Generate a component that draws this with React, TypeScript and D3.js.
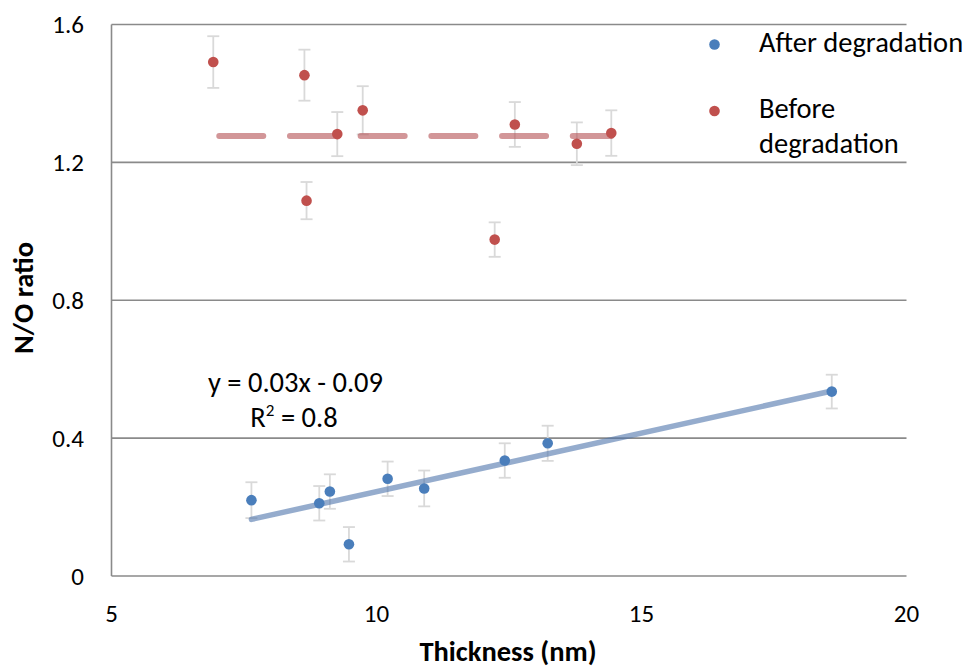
import React from "react";
import * as d3 from "d3";

const afterX = [7.64, 8.92, 9.12, 9.48, 10.21, 10.9, 12.42, 13.23, 18.59];
const afterY = [0.22, 0.211, 0.245, 0.092, 0.282, 0.254, 0.335, 0.385, 0.535];
const afterErr = [0.052, 0.05, 0.05, 0.05, 0.05, 0.052, 0.05, 0.051, 0.049];

const beforeX = [6.92, 8.64, 8.68, 9.26, 9.74, 12.23, 12.61, 13.78, 14.43];
const beforeY = [1.491, 1.453, 1.089, 1.282, 1.351, 0.976, 1.31, 1.254, 1.285];
const beforeErr = [0.075, 0.074, 0.054, 0.064, 0.07, 0.05, 0.065, 0.062, 0.066];

const xTicks = [5, 10, 15, 20];
const yTicks = [0, 0.4, 0.8, 1.2, 1.6];
const yTickLabels = ["0", "0.4", "0.8", "1.2", "1.6"];

const seriesNames = ["After degradation", "Before degradation"];
const equationText = "y = 0.03x - 0.09";

const W = 969;
const H = 669;
const FONT = "Carlito, Calibri, Lato, sans-serif";

export default function App() {
  const x = d3.scaleLinear().domain([5, 20]).range([111.5, 906.5]);
  const y = d3.scaleLinear().domain([0, 1.6]).range([576, 24.5]);

  const after = afterX.map((v, i) => ({ x: v, y: afterY[i], e: afterErr[i] }));
  const before = beforeX.map((v, i) => ({ x: v, y: beforeY[i], e: beforeErr[i] }));

  const mx = d3.mean(afterX) as number;
  const my = d3.mean(afterY) as number;
  const sxy = d3.sum(afterX.map((v, i) => (v - mx) * (afterY[i] - my)));
  const sxx = d3.sum(afterX.map((v) => (v - mx) ** 2));
  const slope = sxy / sxx;
  const icpt = my - slope * mx;
  const [ax0, ax1] = d3.extent(afterX) as [number, number];
  const line = d3
    .line<number>()
    .x((d) => x(d))
    .y((d) => y(slope * d + icpt));

  const meanBefore = d3.mean(beforeY) as number;
  const [bx0, bx1] = d3.extent(beforeX) as [number, number];
  const flat = d3
    .line<number>()
    .x((d) => x(d))
    .y(() => y(meanBefore));

  const blue = "#4a7ebb";
  const red = "#c0504d";
  const errColor = "#d9d9d9";
  const gridColor = "#8a8a8a";

  const errBar = (d: { x: number; y: number; e: number }, i: number, key: string) => {
    const cx = x(d.x);
    const t = y(d.y + d.e);
    const b = y(d.y - d.e);
    return (
      <g key={key + i} stroke={errColor} strokeWidth={1.8}>
        <line x1={cx} x2={cx} y1={t} y2={b} />
        <line x1={cx - 6} x2={cx + 6} y1={t} y2={t} />
        <line x1={cx - 6} x2={cx + 6} y1={b} y2={b} />
      </g>
    );
  };

  const beforeWords = seriesNames[1].split(" ");

  return (
    <svg
      width={W}
      height={H}
      style={{ position: "absolute", left: 0, top: 0, background: "#fff" }}
      fontFamily={FONT}
    >
      <rect x={0} y={0} width={W} height={H} fill="#fff" />
      {yTicks.map((t) => (
        <line
          key={"g" + t}
          x1={x(5)}
          x2={x(20)}
          y1={y(t)}
          y2={y(t)}
          stroke={gridColor}
          strokeWidth={1.6}
        />
      ))}
      <line x1={x(5)} x2={x(5)} y1={y(0)} y2={y(1.6)} stroke={gridColor} strokeWidth={1.6} />

      {yTicks.map((t, i) => (
        <text
          key={"yt" + t}
          x={84}
          y={y(t)}
          textAnchor="end"
          dominantBaseline="central"
          fontSize={25}
          fill="#000"
        >
          {yTickLabels[i]}
        </text>
      ))}
      {xTicks.map((t) => (
        <text
          key={"xt" + t}
          x={x(t)}
          y={613}
          textAnchor="middle"
          dominantBaseline="central"
          fontSize={25}
          fill="#000"
        >
          {t}
        </text>
      ))}

      <text
        x={508}
        y={661}
        textAnchor="middle"
        fontSize={28.5}
        fontWeight="bold"
        fill="#000"
      >
        Thickness (nm)
      </text>
      <text
        transform={`translate(23,298) rotate(-90)`}
        textAnchor="middle"
        dominantBaseline="central"
        fontSize={28.5}
        fontWeight="bold"
        fill="#000"
      >
        N/O ratio
      </text>

      {after.map((d, i) => errBar(d, i, "ea"))}
      {before.map((d, i) => errBar(d, i, "eb"))}

      <path
        d={line([ax0, ax1]) || ""}
        stroke="#4e75ac"
        strokeOpacity={0.6}
        strokeWidth={5.5}
        strokeLinecap="round"
        fill="none"
      />
      <path
        d={flat([bx0, bx1]) || ""}
        stroke="#b45053"
        strokeOpacity={0.6}
        strokeWidth={6}
        strokeLinecap="round"
        strokeDasharray="44 26.7"
        strokeDashoffset={-6}
        fill="none"
      />

      {after.map((d, i) => (
        <circle key={"pa" + i} cx={x(d.x)} cy={y(d.y)} r={5.3} fill={blue} />
      ))}
      {before.map((d, i) => (
        <circle key={"pb" + i} cx={x(d.x)} cy={y(d.y)} r={5.3} fill={red} />
      ))}

      <text x={295.5} y={391.5} textAnchor="middle" fontSize={28.5} fill="#000">
        {equationText}
      </text>
      <text x={294} y={427} textAnchor="middle" fontSize={28.5} fill="#000">
        R<tspan fontSize={17} dy={-11}>2</tspan>
        <tspan dy={11}>{" = " + d3.format(".1f")(0.8)}</tspan>
      </text>

      <circle cx={714.5} cy={44.5} r={5.3} fill={blue} />
      <text x={759} y={51.7} fontSize={28.5} fill="#000">
        {seriesNames[0]}
      </text>
      <circle cx={714.5} cy={111} r={5.3} fill={red} />
      <text x={759} y={118.3} fontSize={28.5} fill="#000">
        {beforeWords[0]}
      </text>
      <text x={759} y={152.7} fontSize={28.5} fill="#000">
        {beforeWords[1]}
      </text>
    </svg>
  );
}
